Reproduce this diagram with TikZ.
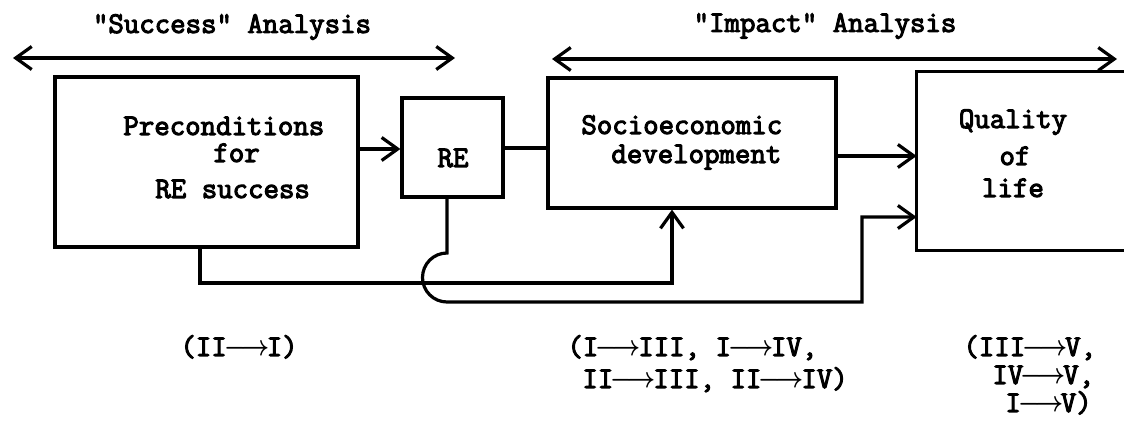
\documentclass[tikz,border=0pt]{standalone}
\usepackage{fontspec}
\setmonofont{Latin Modern Mono}[FakeBold=3.5]
\usetikzlibrary{arrows.meta}
\newcommand{\tarrow}{\makebox[20pt]{\scalebox{0.85}[1]{\boldmath$\longrightarrow$}}}
\begin{document}
\begin{tikzpicture}[x=0.5pt,y=-0.5pt,
  box/.style={draw, line width=1.6pt, inner sep=0pt},
  conn/.style={line width=1.6pt},
  arr/.style={line width=1.6pt, -{Straight Barb[length=8pt,width=11.5pt]}},
  darr/.style={line width=1.6pt, {Straight Barb[length=8pt,width=11.5pt]}-{Straight Barb[length=8pt,width=11.5pt]}},
  txt/.style={font=\fontsize{15}{18}\selectfont\ttfamily, inner sep=0pt}]
\fill[white] (0,0) rectangle (1124,421);
\useasboundingbox (0,0) rectangle (1124,421);

% boxes
\node[box, minimum width=151.5pt, minimum height=85pt] (pre) at (206.5,162) {};
\node[box, minimum width=50.5pt, minimum height=49.5pt] (re) at (452.5,147.5) {};
\node[box, minimum width=144pt, minimum height=65pt] (soc) at (692,143) {};
\node[inner sep=0pt, minimum width=103.5pt, minimum height=89pt] (q) at (1020.5,161) {};
\draw[line width=1.6pt] (q.north east) -- (q.north west) -- (q.south west) -- (q.south east);

% box texts
\node[txt, anchor=base west] (t1) at (123,135) {Preconditions};
\node[txt, anchor=base west] (t2) at (213,162) {for};
\node[txt, anchor=base west] (t3) at (155,198) {RE success};
\node[txt, anchor=base] (t4) at (453,167) {RE};
\node[txt, anchor=base west] (t5) at (581,134) {Socioeconomic};
\node[txt, anchor=base west] (t6) at (611,163) {development};
\node[txt, anchor=base] (t7) at (1013,128) {Quality};
\node[txt, anchor=base] (t8) at (1015,165) {of};
\node[txt, anchor=base] (t9) at (1013,197) {life};

% top analysis arrows
\node[txt] (succ) at (232,27) {"Success" Analysis};
\node[txt] (imp) at (825,26) {"Impact" Analysis};
\coordinate (sL) at (13,58);
\coordinate (sR) at (455,58);
\coordinate (iL) at (552,59);
\coordinate (iR) at (1117,59);
\draw[darr] (sL) -- (sR);
\draw[darr] (iL) -- (iR);

% connectors
\coordinate (y149) at (0,149);
\coordinate (y148) at (0,148);
\coordinate (y156) at (0,156);
\draw[arr] (pre.east |- y149) -- (re.west |- y149);
\draw[conn] (re.east |- y148) -- (soc.west |- y148);
\draw[arr] (soc.east |- y156) -- (q.west |- y156);

\coordinate (p1) at (200,283);
\coordinate (p2) at (672,283);
\draw[arr] (pre.south -| p1) -- (p1) -- (p2) -- (soc.south -| p2);

\coordinate (r1) at (447,253);
\coordinate (r2) at (862,302);
\coordinate (r3) at (862,217);
\draw[arr] (re.south -| r1) -- (r1) arc[start angle=90, end angle=270, radius=12.25pt] -- (r2) -- (r3) -- (q.west |- r3);

% bottom labels
\node[txt, anchor=base west] (b1) at (180,356) {(II\tarrow I)};
\node[txt, anchor=base west] (b2) at (567,356) {(I\tarrow III, I\tarrow IV,};
\node[txt, anchor=base west] (b3) at (582,388) {II\tarrow III, II\tarrow IV)};
\node[txt, anchor=base west] (b4) at (963,356) {(III\tarrow V,};
\node[txt, anchor=base west] (b5) at (992,384) {IV\tarrow V,};
\node[txt, anchor=base west] (b6) at (1005,412) {I\tarrow V)};
\end{tikzpicture}
\end{document}
